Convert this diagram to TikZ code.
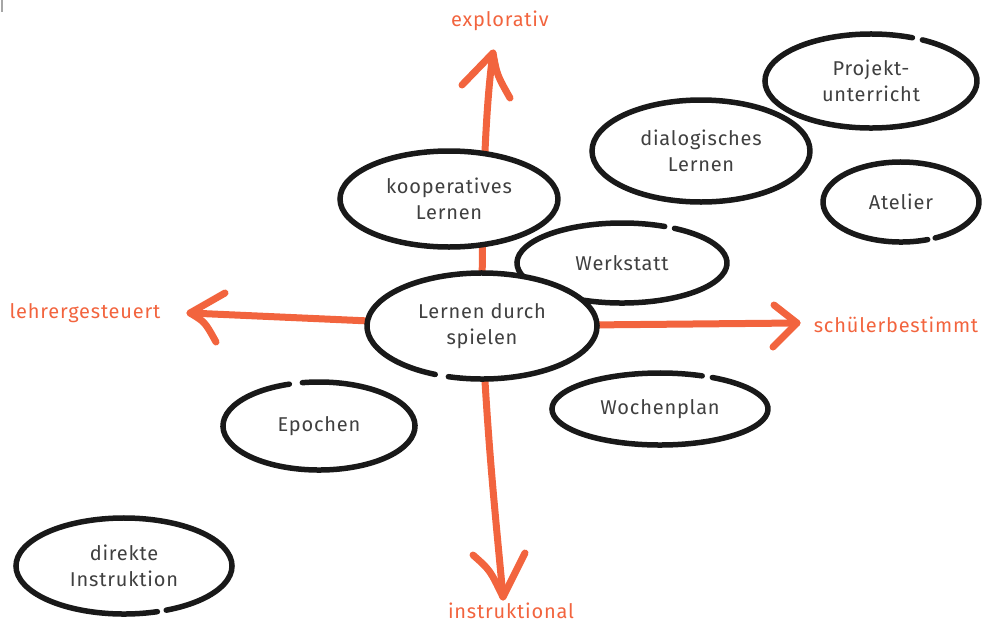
\documentclass[tikz,border=0pt]{standalone}
\usepackage{fontspec}
\setmainfont{Fira Sans}[LetterSpace=4]
\usetikzlibrary{shapes.geometric}
\definecolor{orng}{HTML}{F2643E}
\definecolor{txt}{HTML}{404040}
\pgfdeclarelayer{bg}
\pgfsetlayers{bg,main}
\tikzset{
  ellbox/.style={ellipse, inner sep=0pt, fill=white, text=txt, align=center, font=\fontsize{20}{26}\selectfont},
  outl/.style={line width=5.5pt, line cap=round, black!90},
  oline/.style={line width=7pt, line cap=round, line join=round, orng},
  olabel/.style={text=orng, font=\fontsize{20}{24}\selectfont, inner sep=0pt}
}
% name, x, y, rx, ry, start angle, end angle, text
\newcommand{\gell}[8]{%
  \node[ellbox, minimum width={2*#4 pt}, minimum height={2*#5 pt}] (#1) at (#2,#3) {#8};
  \draw[outl] ([shift={(#6:#4pt and #5pt)}]#1.center) arc[start angle=#6, end angle=#7, x radius=#4pt, y radius=#5pt];
}
\begin{document}
\begin{tikzpicture}[x=1pt,y=-1pt]
\useasboundingbox (0,0) rectangle (983,622);
\draw[gray!70, line width=1.2pt] (2,0) -- (2,12);

\gell{proj}{871}{81}{106}{47}{67}{421}{Projekt-\\unterricht}
\gell{dial}{701}{151}{109}{51}{0}{360}{dialogisches\\Lernen}
\gell{atel}{901}{202}{78}{40}{-64}{290}{Atelier}
\gell{koop}{449}{199}{109}{48}{0}{360}{kooperatives\\Lernen}
\gell{werk}{622}{263}{105}{40}{66}{420}{Werkstatt}
\gell{lds}{482}{326}{115}{53}{-107}{246}{Lernen durch\\spielen}
\gell{woch}{660}{409}{108}{36}{67}{421}{Wochenplan}
\gell{epoc}{319}{426}{96}{44}{108}{460}{Epochen}
\gell{dire}{124}{566}{108}{48}{-67}{288}{direkte\\Instruktion}

\coordinate (tipU) at (493,53);
\coordinate (tipL) at (190,313);
\coordinate (tipR) at (797,323);
\coordinate (tipD) at (503,597);

\begin{pgfonlayer}{bg}
\draw[oline] (lds.center) .. controls (482,200) and (485,110) .. (tipU);
\draw[oline] (462,85) -- (tipU) .. controls (497,75) .. (510,98);
\draw[oline] (lds.center) -- (tipL);
\draw[oline] (225,293) -- (tipL) .. controls (205,322) .. (216,342);
\draw[oline] (lds.center) -- (tipR);
\draw[oline] (774,305) -- (tipR) -- (773,347);
\draw[oline] (lds.center) .. controls (488,450) and (496,520) .. (tipD);
\draw[oline] (473,555) .. controls (490,570) .. (tipD) -- (525,553);
\end{pgfonlayer}

\node[olabel] (lexp) at (500,21) {explorativ};
\node[olabel] (lleh) at (85,313) {lehrergesteuert};
\node[olabel] (lsch) at (896,325) {schülerbestimmt};
\node[olabel, anchor=base] (lins) at (511,618) {instruktional};
\end{tikzpicture}
\end{document}
